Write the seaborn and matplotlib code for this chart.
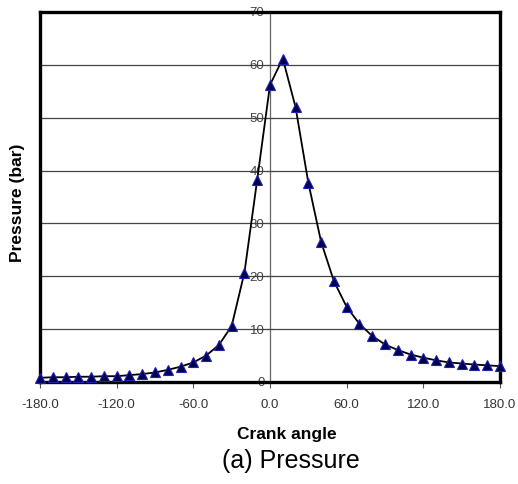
import numpy as np
import pandas as pd
import matplotlib
matplotlib.use("Agg")
import matplotlib.pyplot as plt
import seaborn as sns

# crank angle (deg) and cylinder pressure (bar)
crank_angle = [-180, -170, -160, -150, -140, -130, -120, -110, -100, -90,
               -80, -70, -60, -50, -40, -30, -20, -10, 0, 10,
               20, 30, 40, 50, 60, 70, 80, 90, 100, 110,
               120, 130, 140, 150, 160, 170, 180]
pressure = [0.8, 0.9, 0.9, 1.0, 1.0, 1.1, 1.1, 1.3, 1.5, 1.8,
            2.3, 2.9, 3.7, 5.0, 7.0, 10.6, 20.7, 38.3, 56.2, 61.2,
            52.0, 37.7, 26.5, 19.1, 14.2, 11.0, 8.7, 7.1, 6.05, 5.2,
            4.6, 4.1, 3.7, 3.5, 3.3, 3.15, 3.0]
x_ticks = [-180, -120, -60, 0, 60, 120, 180]
y_ticks = [0, 10, 20, 30, 40, 50, 60, 70]

df = pd.DataFrame({"Crank angle": crank_angle, "Pressure": pressure})

sns.set_style("white")
plt.rcParams["font.family"] = ["Liberation Sans", "DejaVu Sans"]

fig = plt.figure(figsize=(5.18, 4.84), dpi=100)
ax = fig.add_axes([40 / 518, 1 - 382 / 484, 460 / 518, 370 / 484])

sns.lineplot(data=df, x="Crank angle", y="Pressure", ax=ax, color="black",
             linewidth=1.3, marker="^", markersize=7,
             markerfacecolor="#000050", markeredgecolor="#2020b0",
             markeredgewidth=0.8, clip_on=False, zorder=5)

ax.set_xlim(-180, 180)
ax.set_ylim(0, 70)
ax.set_xticks(x_ticks)
ax.set_xticklabels([f"{v:.1f}" for v in x_ticks], fontsize=9.5, color="#333333")
ax.set_yticks(y_ticks)
ax.tick_params(axis="y", left=False, labelleft=False)
ax.tick_params(axis="x", bottom=True, direction="out", length=4, width=0.8,
               color="#555555", pad=8)
ax.yaxis.grid(True, color="#444444", linewidth=0.9)
ax.xaxis.grid(False)

for s in ax.spines.values():
    s.set_linewidth(2.4)
    s.set_color("black")

# y axis crossing at 0 deg, labels on its left side
sec = ax.secondary_yaxis(0.5)
sec.set_yticks(y_ticks)
sec.yaxis.set_ticks_position("left")
for side in ("left", "right"):
    sec.spines[side].set_color("#666666")
    sec.spines[side].set_linewidth(0.9)
sec.tick_params(axis="y", direction="inout", length=6, width=0.8,
                color="#555555", labelsize=9.5, labelcolor="#444444", pad=1,
                left=True, labelleft=True, right=False, labelright=False)

ax.set_xlabel("")
ax.set_ylabel("")
fig.text(18 / 518, 1 - 203 / 484, "Pressure (bar)", fontsize=12.5,
         fontweight="bold", rotation=90, ha="center", va="center", color="black")
fig.text(287 / 518, 1 - 434 / 484, "Crank angle", fontsize=12.5,
         fontweight="bold", ha="center", va="center", color="black")
fig.text(291 / 518, 1 - 461 / 484, "(a) Pressure", fontsize=18,
         ha="center", va="center", color="black")

fig.savefig("out.png", dpi=100)
